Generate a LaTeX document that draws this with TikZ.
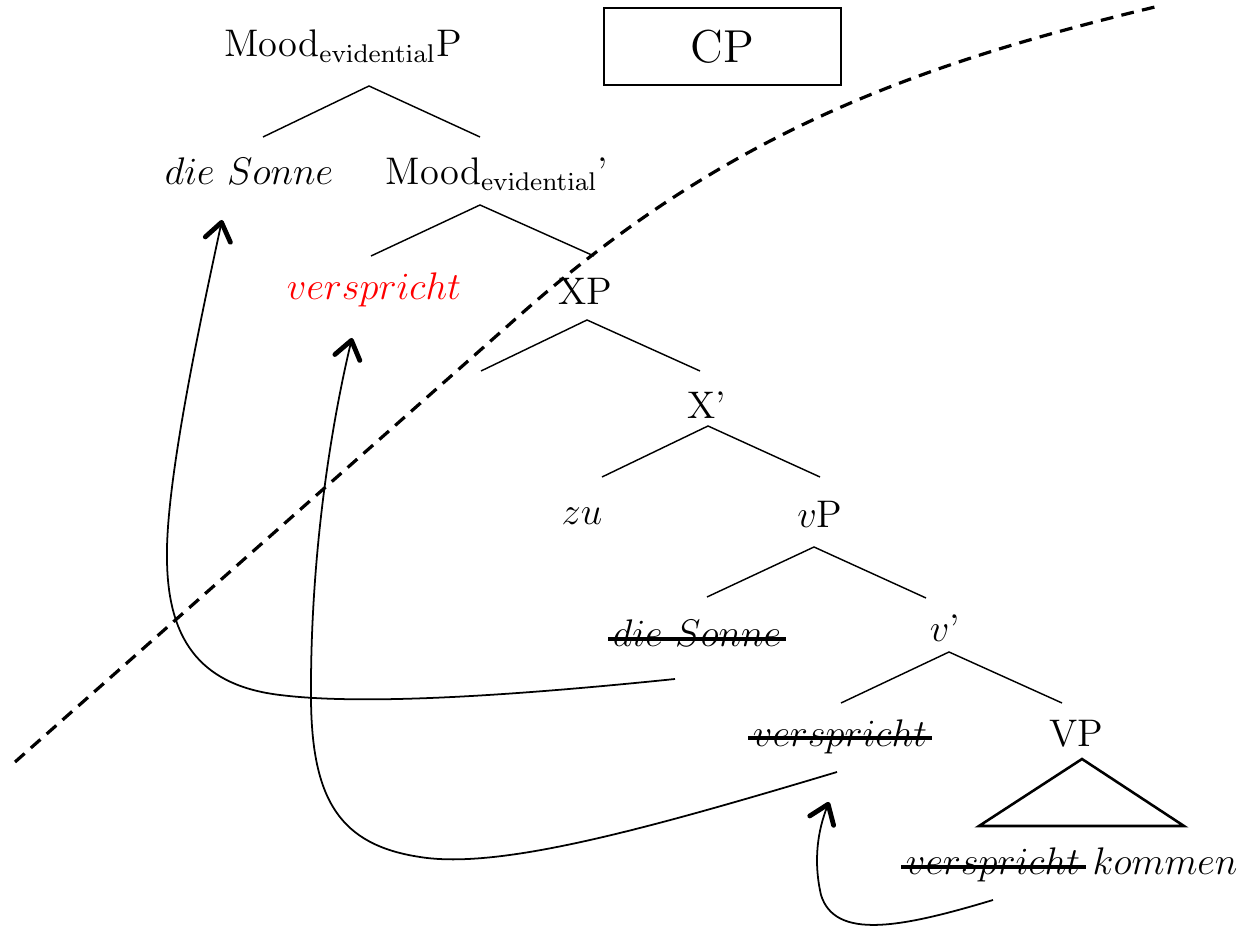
\documentclass[tikz,border=0pt]{standalone}
\usetikzlibrary{arrows.meta}
\begin{document}
\begin{tikzpicture}[x=0.312pt,y=-0.312pt,
  lbl/.style={inner sep=0pt,anchor=base,font=\fontsize{12}{14}\selectfont},
  branch/.style={line width=0.45pt},
  strikeline/.style={line width=1pt},
  tri/.style={line width=0.8pt,line join=miter},
  move/.style={line width=0.55pt,-{Straight Barb[length=5.5pt,width=8pt,line width=1.5pt,round]}},
  bound/.style={line width=1pt,dash pattern=on 4pt off 2.6pt},
  cpbox/.style={draw,line width=0.6pt,minimum width=73.9pt,minimum height=24pt,inner sep=0pt,font=\fontsize{14.4}{17}\selectfont}]
\useasboundingbox (0,0) rectangle (1240,931);

% nodes
\node[cpbox] (cp) at (722.5,46.5) {CP};
\node[lbl] (mp) at (343,57) {Mood$_{\mathrm{evidential}}$P};
\node[lbl] (ds1) at (249,185) {$die\ Sonne$};
\node[lbl] (mb) at (497,185) {Mood$_{\mathrm{evidential}}$'};
\node[lbl,text=red] (vr) at (374,300) {$verspricht$};
\node[lbl] (xp) at (585,305) {XP};
\node[lbl] (xb) at (707,419) {X'};
\node[lbl] (zu) at (582,525) {$zu$};
\node[lbl] (vp) at (820,528) {$v$P};
\node[lbl] (ds2) at (697,647) {$die\ Sonne$};
\node[lbl] (vb) at (945,642) {$v$'};
\node[lbl] (vs) at (840,747) {$verspricht$};
\node[lbl] (VP) at (1076,747) {VP};
\node[lbl] (vk1) at (993,875) {$verspricht$};
\node[lbl,anchor=base west] (vk2) at (1092,875) {$kommen$};

% strike-throughs
\draw[strikeline] ([shift={(-4,-8)}]ds2.base west) -- ([shift={(4,-8)}]ds2.base east);
\draw[strikeline] ([shift={(-4,-9)}]vs.base west) -- ([shift={(4,-9)}]vs.base east);
\draw[strikeline] ([shift={(-4,-8)}]vk1.base west) -- ([shift={(5,-8)}]vk1.base east);

% tree branches
\coordinate (a1) at (369,86);  \coordinate (l1) at (263,137); \coordinate (r1) at (480,137);
\coordinate (a2) at (480,205); \coordinate (l2) at (371,256); \coordinate (r2) at (594,256);
\coordinate (a3) at (587,320); \coordinate (l3) at (481,371); \coordinate (r3) at (700,371);
\coordinate (a4) at (708,426); \coordinate (l4) at (602,477); \coordinate (r4) at (820,477);
\coordinate (a5) at (814,547); \coordinate (l5) at (707,597); \coordinate (r5) at (926,598);
\coordinate (a6) at (949,652); \coordinate (l6) at (841,703); \coordinate (r6) at (1062,703);
\foreach \i in {1,...,6} {\draw[branch] (l\i) -- (a\i) -- (r\i);}

% VP triangle
\coordinate (ta) at (1082,759); \coordinate (tl) at (979,826); \coordinate (tr) at (1184,826);
\draw[tri] (ta) -- (tl) -- (tr) -- cycle;

% phase boundary
\coordinate (b0) at (15,762); \coordinate (b1) at (520,315); \coordinate (b2) at (1155,7);
\draw[bound] (b0) -- (b1) .. controls (720,138) and (905,67) .. (b2);

% movement arrows
\coordinate (m1s) at (675,679); \coordinate (m1t) at (222,220);
\draw[move] (m1s) .. controls (500,697) and (360,705) .. (280,695)
  .. controls (205,686) and (168,645) .. (167,560)
  .. controls (165,480) and (205,300) .. (m1t);
\coordinate (m2s) at (837,772); \coordinate (m2t) at (352,338);
\draw[move] (m2s) .. controls (650,828) and (500,870) .. (420,857)
  .. controls (340,845) and (312,800) .. (311,700)
  .. controls (310,560) and (330,430) .. (m2t);
\coordinate (m3s) at (993,900); \coordinate (m3t) at (829,802);
\draw[move] (m3s) .. controls (900,928) and (835,940) .. (821,895)
  .. controls (813,860) and (818,830) .. (m3t);
\end{tikzpicture}
\end{document}
